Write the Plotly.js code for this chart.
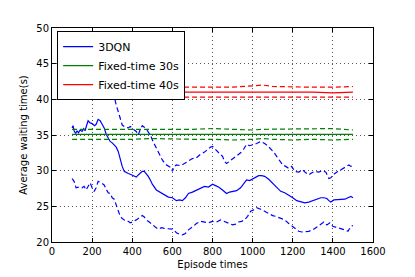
<!DOCTYPE html>
<html>
<head>
<meta charset="utf-8">
<script src="https://cdn.plot.ly/plotly-3.0.1.min.js"></script>
<style>html,body{margin:0;padding:0;background:#fff;}#chart{width:415px;height:277px;}</style>
</head>
<body>
<div id="chart"></div>
<script>
// 3DQN mean and bounds
const dqnX = [100,105,110,118,125,132,140,150,158,165,172,180,190,200,212,220,230,240,250,260,270,280,290,300,310,320,330,340,350,360,370,380,390,400,410,420,430,440,450,460,470,480,490,500,520,550,580,600,610,620,635,650,665,680,700,720,740,760,780,800,815,830,850,870,885,900,920,940,955,970,985,1000,1015,1030,1045,1060,1080,1100,1120,1140,1160,1180,1200,1220,1240,1260,1280,1300,1320,1340,1355,1370,1380,1390,1405,1420,1440,1460,1475,1490,1500];
const dqnMean = [36.0,36.3,35.6,35.2,35.6,35.3,35.7,35.5,35.9,35.6,36.3,37.0,36.7,36.6,36.3,36.5,37.2,37.0,36.5,36.0,35.1,34.6,34.1,33.9,33.6,33.3,32.7,31.6,30.6,29.9,29.7,29.6,29.5,29.4,29.3,29.1,29.4,29.7,29.9,29.9,29.6,29.2,28.7,28.1,27.3,26.8,26.3,26.2,26.0,25.8,25.9,25.8,26.2,26.8,27.0,27.3,27.5,27.8,27.7,28.1,27.9,27.7,27.3,26.8,27.0,27.1,27.2,27.6,28.2,28.7,28.6,28.8,29.1,29.3,29.3,29.2,28.8,28.2,27.7,27.1,26.9,26.6,26.2,25.8,25.6,25.5,25.6,25.8,26.0,26.2,26.2,26.1,25.8,25.6,25.9,25.9,26.0,26.0,26.2,26.4,26.2];

const upX = [100,150,200,250,280,300,310,320,330,340,350,365,380,390,400,410,420,430,440,450,460,470,480,490,505,520,535,550,565,580,595,600,610,620,640,660,680,700,720,740,760,780,790,800,810,820,835,850,860,870,885,900,920,940,955,970,985,1000,1020,1040,1050,1060,1075,1090,1105,1120,1135,1150,1165,1180,1195,1210,1230,1250,1265,1280,1295,1310,1330,1350,1365,1380,1390,1400,1420,1440,1460,1480,1490,1500];
const dqnUpper = [45.0,45.5,46.0,45.0,43.5,41.7,40.4,39.2,38.3,37.2,36.4,36.1,36.0,36.2,35.9,35.7,35.5,35.0,35.8,36.3,36.1,35.9,35.4,35.0,34.0,33.1,32.2,31.5,30.9,30.7,30.4,29.9,30.6,30.8,30.7,31.0,31.4,31.7,31.8,32.3,32.6,33.1,33.3,33.4,33.1,32.7,32.4,32.0,31.3,31.0,31.3,31.7,32.0,32.5,33.0,33.7,33.5,33.6,33.8,34.1,34.0,33.8,33.5,33.1,32.6,32.0,31.3,30.8,30.6,30.3,30.6,29.9,29.8,30.1,29.7,29.4,29.7,29.9,29.8,30.0,29.8,28.9,29.0,29.4,29.8,30.1,30.4,30.8,30.6,30.7];

const loX = [100,110,120,135,150,160,170,180,190,200,210,220,230,245,260,270,280,290,300,310,320,330,340,350,360,370,380,390,400,410,420,435,450,460,470,485,500,515,530,545,560,580,600,610,620,635,650,665,680,700,720,740,760,780,800,820,840,855,870,885,900,915,930,945,960,975,990,1005,1020,1040,1060,1080,1100,1115,1130,1145,1160,1180,1200,1215,1230,1245,1260,1280,1300,1320,1340,1355,1370,1385,1400,1415,1430,1445,1460,1475,1490,1500];
const dqnLower = [28.9,28.5,27.6,27.7,27.6,27.8,27.3,27.9,28.3,27.6,27.1,27.6,28.5,28.3,28.0,27.4,26.9,26.8,26.2,26.0,25.2,24.5,23.6,23.3,23.1,22.9,22.9,22.7,22.8,22.9,23.1,23.4,23.7,23.5,23.1,22.8,22.4,22.1,21.8,22.0,21.9,21.9,21.8,21.6,21.3,21.1,21.0,21.2,21.7,22.1,22.6,22.9,22.8,22.7,22.9,22.8,23.1,22.9,22.8,22.5,22.4,22.5,22.8,22.9,23.1,23.6,24.3,24.5,24.8,24.6,24.3,24.1,23.7,23.6,23.4,23.2,23.1,22.6,22.2,21.8,21.5,21.4,21.4,21.5,21.7,22.1,22.6,22.8,22.4,22.7,22.2,22.1,21.9,21.8,21.7,21.5,22.2,22.3];

// Fixed-time baselines
const fixX = [100,200,300,400,500,600,700,800,900,1000,1050,1100,1200,1300,1400,1500];
const fix30Mean  = [35.1,35.1,35.0,35.1,35.1,35.0,35.1,35.1,35.0,35.1,35.1,35.0,35.1,35.1,35.0,35.1];
const fix30Upper = [35.8,35.8,35.7,35.8,35.7,35.8,35.8,35.9,35.8,35.7,35.8,35.8,35.9,35.8,35.9,35.7];
const fix30Lower = [34.4,34.4,34.3,34.4,34.5,34.4,34.4,34.4,34.3,34.4,34.5,34.4,34.3,34.4,34.3,34.4];
const fix40Mean  = [41.0,41.0,41.0,41.0,41.1,41.1,41.0,41.0,41.0,41.1,41.1,41.0,41.0,41.0,40.9,41.0];
const fix40Upper = [41.7,41.7,41.7,41.7,41.8,41.7,41.7,41.8,41.7,41.9,42.0,41.8,41.7,41.7,41.7,41.8];
const fix40Lower = [40.3,40.3,40.3,40.3,40.3,40.3,40.3,40.3,40.3,40.3,40.4,40.3,40.3,40.3,40.3,40.3];

const BLUE = '#0000ff', GREEN = '#008000', RED = '#ff0000';
const DASH = '5px,3px';
function ln(x, y, color, dash, name, show) {
  return {x: x, y: y, type: 'scatter', mode: 'lines', name: name || '', showlegend: !!show,
    line: {color: color, width: 1.2, dash: dash || 'solid'}, hoverinfo: 'skip'};
}
const data = [
  ln(dqnX, dqnMean, BLUE, null, '3DQN', true),
  ln(fixX, fix30Mean, GREEN, null, 'Fixed-time 30s', true),
  ln(fixX, fix40Mean, RED, null, 'Fixed-time 40s', true),
  ln(upX, dqnUpper, BLUE, DASH),
  ln(loX, dqnLower, BLUE, DASH),
  ln(fixX, fix30Upper, GREEN, DASH),
  ln(fixX, fix30Lower, GREEN, DASH),
  ln(fixX, fix40Upper, RED, DASH),
  ln(fixX, fix40Lower, RED, DASH)
];
const axisCommon = {
  showline: true, linecolor: '#000', linewidth: 1, mirror: 'ticks',
  ticks: 'inside', ticklen: 4, tickcolor: '#000',
  showgrid: true, gridcolor: '#555', griddash: '1px,3px', gridwidth: 1,
  zeroline: false, tickfont: {size: 10, color: '#000'}
};
const layout = {
  width: 415, height: 277,
  margin: {l: 52, r: 42, t: 28, b: 35},
  paper_bgcolor: '#fff', plot_bgcolor: '#fff',
  font: {family: 'DejaVu Sans', size: 10, color: '#000'},
  xaxis: Object.assign({}, axisCommon, {range: [0, 1600], dtick: 200,
    title: {text: 'Episode times', font: {size: 10}, standoff: 4}}),
  yaxis: Object.assign({}, axisCommon, {range: [20, 50], dtick: 5,
    title: {text: 'Average waiting time(s)', font: {size: 10}, standoff: 6}}),
  legend: {x: 0.016, y: 0.985, xanchor: 'left', yanchor: 'top',
    bgcolor: '#fff', bordercolor: '#000', borderwidth: 1,
    font: {size: 11, color: '#000'}, tracegroupgap: 0},
  showlegend: true
};
Plotly.newPlot('chart', data, layout, {displayModeBar: false, staticPlot: true});
</script>
</body>
</html>
